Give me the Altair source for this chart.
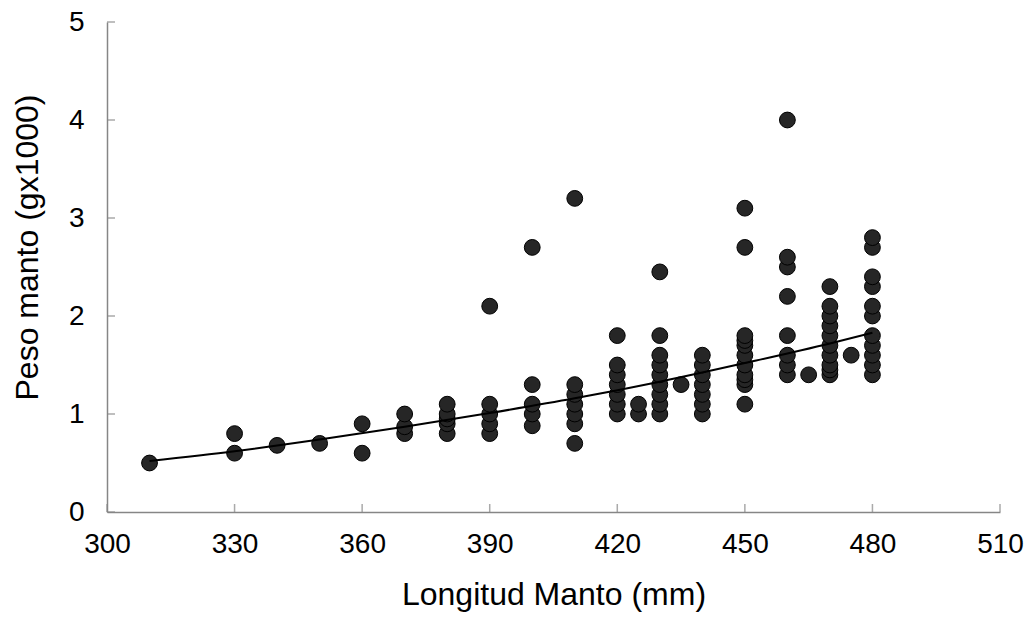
import altair as alt
import pandas as pd

longitud = (
    [310] + [330, 330] + [340] + [350] + [360, 360] + [370, 370, 370]
    + [380] * 5 + [390] * 5 + [400] * 5 + [410] * 7 + [420] * 7 + [425] * 2
    + [430] * 9 + [435] + [440] * 7 + [450] * 11 + [460] * 8 + [465]
    + [470] * 10 + [475] + [480] * 11
)
peso = (
    [0.5]
    + [0.6, 0.8]
    + [0.68]
    + [0.7]
    + [0.6, 0.9]
    + [0.8, 0.87, 1.0]
    + [0.8, 0.9, 0.95, 1.0, 1.1]
    + [0.8, 0.9, 1.0, 1.1, 2.1]
    + [0.88, 1.0, 1.1, 1.3, 2.7]
    + [0.7, 0.9, 1.0, 1.1, 1.2, 1.3, 3.2]
    + [1.0, 1.1, 1.2, 1.3, 1.4, 1.5, 1.8]
    + [1.0, 1.1]
    + [1.0, 1.1, 1.2, 1.3, 1.4, 1.5, 1.6, 1.8, 2.45]
    + [1.3]
    + [1.0, 1.1, 1.2, 1.3, 1.4, 1.5, 1.6]
    + [1.1, 1.3, 1.35, 1.4, 1.5, 1.6, 1.7, 1.75, 1.8, 2.7, 3.1]
    + [1.4, 1.5, 1.6, 1.8, 2.2, 2.5, 2.6, 4.0]
    + [1.4]
    + [1.4, 1.45, 1.5, 1.6, 1.7, 1.8, 1.9, 2.0, 2.1, 2.3]
    + [1.6]
    + [1.4, 1.5, 1.6, 1.7, 1.8, 2.0, 2.1, 2.3, 2.4, 2.7, 2.8]
)

# trend line (power fit)
trend_x = [310, 330, 350, 370, 390, 410, 430, 450, 470, 480]
trend_y = [0.52, 0.62, 0.74, 0.87, 1.01, 1.16, 1.33, 1.52, 1.72, 1.83]

x_ticks = [300, 330, 360, 390, 420, 450, 480, 510]
y_ticks = [0, 1, 2, 3, 4, 5]

df = pd.DataFrame({"longitud": longitud, "peso": peso})
tr = pd.DataFrame({"longitud": trend_x, "peso": trend_y})
xt = pd.DataFrame({"longitud": x_ticks, "peso": [0] * len(x_ticks)})
yt = pd.DataFrame({"peso": y_ticks, "longitud": [300] * len(y_ticks)})

FONT = "Liberation Sans"
AX = "#868686"

xscale = alt.Scale(domain=[300, 510], nice=False, zero=False)
yscale = alt.Scale(domain=[0, 5], nice=False)

xaxis = alt.Axis(values=x_ticks, title="Longitud Manto (mm)", grid=False, ticks=False,
                 domainColor=AX, domainWidth=1.5, labelFontSize=28, labelFont=FONT,
                 labelColor="black", labelPadding=18, labelFlush=False,
                 titleFontSize=32, titleFont=FONT,
                 titleFontWeight="normal", titleColor="black", titlePadding=21,
                 format="d")
yaxis = alt.Axis(values=y_ticks, title="Peso manto (gx1000)", grid=False, ticks=False,
                 domainColor=AX, domainWidth=1.5, labelFontSize=28, labelFont=FONT,
                 labelColor="black", labelPadding=23, labelFlush=False,
                 titleFontSize=32, titleFont=FONT, titleY=225,
                 titleFontWeight="normal", titleColor="black", titlePadding=24,
                 format="d")

X = alt.X("longitud:Q", scale=xscale, axis=xaxis)
Y = alt.Y("peso:Q", scale=yscale, axis=yaxis)

points = alt.Chart(df).mark_circle(size=250, color="#262626", opacity=1,
                                   stroke="black", strokeWidth=1).encode(x=X, y=Y)

trend = alt.Chart(tr).mark_line(color="black", strokeWidth=2,
                                interpolate="monotone").encode(x=X, y=Y)

xtick = alt.Chart(xt).mark_tick(color=AX, thickness=1.5, size=8, orient="vertical",
                                yOffset=-4).encode(x=X, y=Y)
ytick = alt.Chart(yt).mark_tick(color=AX, thickness=1.5, size=8, orient="horizontal",
                                xOffset=4).encode(x=X, y=Y)

chart = alt.layer(points, xtick, ytick, trend).properties(
    width=893, height=490,
    autosize=alt.AutoSizeParams(type="none"),
    padding={"left": 107, "top": 22, "right": 34, "bottom": 105},
    background="white",
).configure_view(stroke=None)

chart.save("out.html", embed_options={"renderer": "svg", "actions": False})
